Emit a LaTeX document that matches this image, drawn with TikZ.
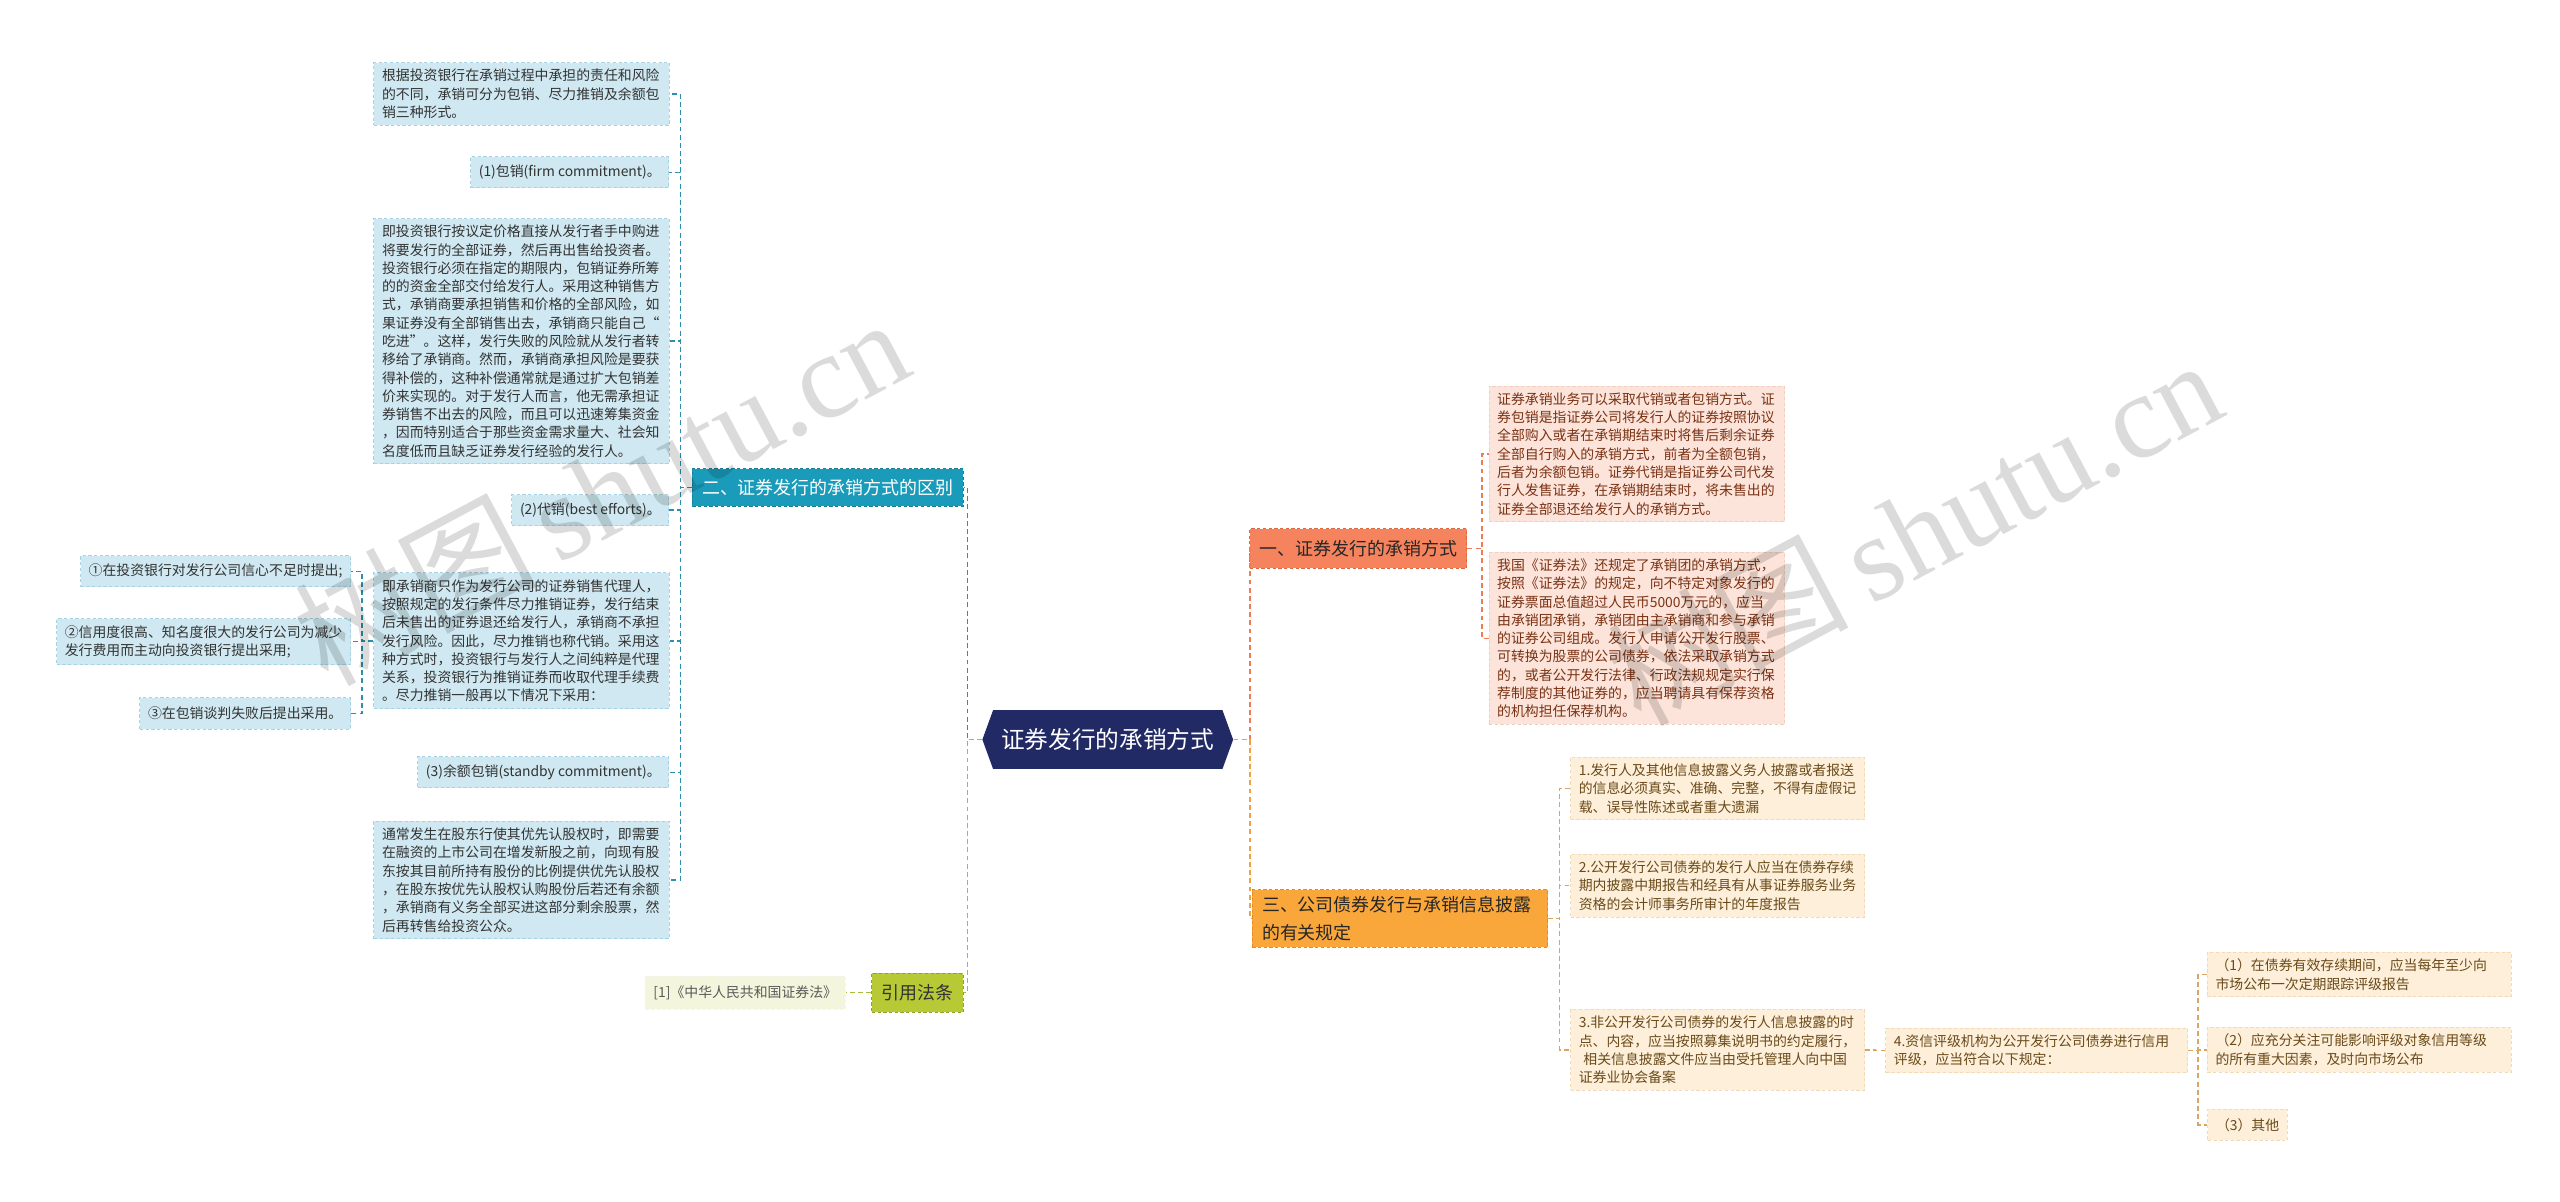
\documentclass[tikz,border=0pt]{standalone}
\usepackage{fontspec}
\setmainfont{Noto Sans CJK SC}
\newfontfamily\wmserif{Liberation Serif}
\usetikzlibrary{shapes.symbols}
\definecolor{navy}{HTML}{222A66}
\definecolor{bluefill}{HTML}{CFE8F1}
\definecolor{blueedge}{HTML}{A6D3E3}
\definecolor{bluebranch}{HTML}{1B9BBA}
\definecolor{bluebranchedge}{HTML}{157E98}
\definecolor{bluecon}{HTML}{2E8FAB}
\definecolor{greencon}{HTML}{A9BB3A}
\definecolor{greenfill}{HTML}{B7C935}
\definecolor{greenleaf}{HTML}{F3F6DC}
\definecolor{coral}{HTML}{F5835D}
\definecolor{coraledge}{HTML}{E0683F}
\definecolor{coralcon}{HTML}{EE7D55}
\definecolor{pinkfill}{HTML}{FCE4DA}
\definecolor{pinkedge}{HTML}{F3CDBE}
\definecolor{pinktext}{HTML}{7A3214}
\definecolor{orange}{HTML}{F9A73A}
\definecolor{orangeedge}{HTML}{E08E24}
\definecolor{orangecon}{HTML}{F2A23C}
\definecolor{creamfill}{HTML}{FDEFD9}
\definecolor{creamedge}{HTML}{F1DAB5}
\definecolor{creamtext}{HTML}{6A4A1A}
\definecolor{tancon}{HTML}{D9A565}
\definecolor{darktext}{HTML}{333333}
\begin{document}
\begin{tikzpicture}[x=1pt,y=-1pt,
  leaf/.style={font=\fontsize{8.5}{11.2}\selectfont, inner xsep=5pt, inner ysep=4pt, draw, dash pattern=on 2pt off 1.5pt, line width=0.6pt, align=left},
  bleaf/.style={leaf, fill=bluefill, draw=blueedge, text=darktext},
  pleaf/.style={leaf, fill=pinkfill, draw=pinkedge, text=pinktext},
  cleaf/.style={leaf, fill=creamfill, draw=creamedge, text=creamtext},
  gleaf/.style={leaf, fill=greenleaf, draw=greenleaf!80!black!20, text=black!65},
  branch/.style={font=\fontsize{11}{17}\selectfont, inner xsep=6pt, inner ysep=4pt, draw, dash pattern=on 2pt off 1.5pt, line width=0.6pt, align=left},
  con/.style={line width=0.9pt, dash pattern=on 3pt off 2pt},
  wm/.style={text=black, opacity=0.14, rotate=28}
]
\useasboundingbox[fill=white] (0,0) rectangle (1568,736);

% centre
\node[signal, signal to=east and west, signal pointer angle=140, fill=navy, text=white,
      font=\fontsize{14.5}{16}\selectfont, minimum height=36pt, inner xsep=5pt] (c) at (678.5,453) {证券发行的承销方式};

% left branches
\node[branch, fill=bluebranch, draw=bluebranchedge, text=white, minimum width=166pt, minimum height=23pt] (n2) at (507,298.5) {二、证券发行的承销方式的区别};
\node[branch, fill=greenfill, draw=greenfill!80!black, text=darktext, minimum height=24pt] (ref) at (562,608) {引用法条};
\node[gleaf, anchor=east, minimum height=20pt] (law) at (518,608) {[1]《中华人民共和国证券法》};

% left leaves
\node[bleaf, text width=171pt] (L1) at (319.5,57.5) {根据投资银行在承销过程中承担的责任和风险\\的不同，承销可分为包销、尽力推销及余额包\\销三种形式。};
\node[bleaf, anchor=east, minimum height=19pt] (L2) at (410,105.5) {(1)包销(firm commitment)。};
\node[bleaf, text width=171pt] (L3) at (319.5,209) {即投资银行按议定价格直接从发行者手中购进\\将要发行的全部证券，然后再出售给投资者。\\投资银行必须在指定的期限内，包销证券所筹\\的的资金全部交付给发行人。采用这种销售方\\式，承销商要承担销售和价格的全部风险，如\\果证券没有全部销售出去，承销商只能自己“\\吃进”。这样，发行失败的风险就从发行者转\\移给了承销商。然而，承销商承担风险是要获\\得补偿的，这种补偿通常就是通过扩大包销差\\价来实现的。对于发行人而言，他无需承担证\\券销售不出去的风险，而且可以迅速筹集资金\\，因而特别适合于那些资金需求量大、社会知\\名度低而且缺乏证券发行经验的发行人。};
\node[bleaf, anchor=east, minimum height=19pt] (L4) at (410,312.5) {(2)代销(best efforts)。};
\node[bleaf, text width=171pt] (L5) at (319.5,392.5) {即承销商只作为发行公司的证券销售代理人，\\按照规定的发行条件尽力推销证券，发行结束\\后未售出的证券退还给发行人，承销商不承担\\发行风险。因此，尽力推销也称代销。采用这\\种方式时，投资银行与发行人之间纯粹是代理\\关系，投资银行为推销证券而收取代理手续费\\。尽力推销一般再以下情况下采用：};
\node[bleaf, anchor=east, minimum height=19pt] (L6) at (410,473) {(3)余额包销(standby commitment)。};
\node[bleaf, text width=171pt] (L7) at (319.5,539) {通常发生在股东行使其优先认股权时，即需要\\在融资的上市公司在增发新股之前，向现有股\\东按其目前所持有股份的比例提供优先认股权\\，在股东按优先认股权认购股份后若还有余额\\，承销商有义务全部买进这部分剩余股票，然\\后再转售给投资公众。};

\node[bleaf, anchor=east, minimum height=19pt] (c1) at (215,350) {①在投资银行对发行公司信心不足时提出;};
\node[bleaf, anchor=east] (c2) at (215,393) {②信用度很高、知名度很大的发行公司为减少\\发行费用而主动向投资银行提出采用;};
\node[bleaf, anchor=east, minimum height=19pt] (c3) at (215,437) {③在包销谈判失败后提出采用。};

% right branches
\node[branch, fill=coral, draw=coraledge, text=black!85, minimum height=24pt] (n1) at (832,336) {一、证券发行的承销方式};
\node[branch, fill=orange, draw=orangeedge, text=black!85, text width=169pt] (n3) at (857.5,562.5) {三、公司债券发行与承销信息披露\\的有关规定};

\node[pleaf, text width=171pt] (A) at (1002.5,278) {证券承销业务可以采取代销或者包销方式。证\\券包销是指证券公司将发行人的证券按照协议\\全部购入或者在承销期结束时将售后剩余证券\\全部自行购入的承销方式，前者为全额包销，\\后者为余额包销。证券代销是指证券公司代发\\行人发售证券，在承销期结束时，将未售出的\\证券全部退还给发行人的承销方式。};
\node[pleaf, text width=171pt] (B) at (1002.5,391) {我国《证券法》还规定了承销团的承销方式，\\按照《证券法》的规定，向不特定对象发行的\\证券票面总值超过人民币5000万元的，应当\\由承销团承销，承销团由主承销商和参与承销\\的证券公司组成。发行人申请公开发行股票、\\可转换为股票的公司债券，依法采取承销方式\\的，或者公开发行法律、行政法规规定实行保\\荐制度的其他证券的，应当聘请具有保荐资格\\的机构担任保荐机构。};

\node[cleaf, text width=170pt] (t1) at (1052,483) {1.发行人及其他信息披露义务人披露或者报送\\的信息必须真实、准确、完整，不得有虚假记\\载、误导性陈述或者重大遗漏};
\node[cleaf, text width=170pt] (t2) at (1052,542.5) {2.公开发行公司债券的发行人应当在债券存续\\期内披露中期报告和经具有从事证券服务业务\\资格的会计师事务所审计的年度报告};
\node[cleaf, text width=170pt] (t3) at (1052,643) {3.非公开发行公司债券的发行人信息披露的时\\点、内容，应当按照募集说明书的约定履行，\\\ 相关信息披露文件应当由受托管理人向中国\\证券业协会备案};
\node[cleaf, text width=175pt] (t4) at (1247.5,643.5) {4.资信评级机构为公开发行公司债券进行信用\\评级，应当符合以下规定：};
\node[cleaf, text width=176pt] (s1) at (1445,597) {（1）在债券有效存续期间，应当每年至少向\\市场公布一次定期跟踪评级报告};
\node[cleaf, text width=176pt] (s2) at (1445,643) {（2）应充分关注可能影响评级对象信用等级\\的所有重大因素，及时向市场公布};
\node[cleaf, anchor=west, minimum height=19pt] (s3) at (1352,689) {（3）其他};

% connectors
\draw[con, draw=bluecon] (c.west) -- ++(-9,0) |- (n2.east);
\draw[con, draw=greencon] (c.west) -- ++(-9,0) |- (ref.east);
\draw[con, draw=greencon] (ref.west) -- (law.east);
\foreach \k in {L1,L2,L3,L4,L5,L6,L7}{
  \draw[con, draw=bluecon] (n2.west) -- ++(-7,0) |- (\k.east);
}
\foreach \k in {c1,c2,c3}{
  \draw[con, draw=bluecon] (L5.west) -- ++(-7,0) |- (\k.east);
}
\draw[con, draw=coralcon] (c.east) -- ++(10,0) |- (n1.west);
\draw[con, draw=orangecon] (c.east) -- ++(10,0) |- (n3.west);
\foreach \k in {A,B}{
  \draw[con, draw=coralcon] (n1.east) -- ++(9,0) |- (\k.west);
}
\foreach \k in {t1,t2,t3}{
  \draw[con, draw=tancon] (n3.east) -- ++(7,0) |- (\k.west);
}
\draw[con, draw=tancon] (t3.east) -- ++(6,0) |- (t4.west);
\foreach \k in {s1,s2,s3}{
  \draw[con, draw=tancon] (t4.east) -- ++(6,0) |- (\k.west);
}

% watermarks
\node[wm, font=\fontsize{74}{74}\selectfont] (wm1) at (368,300) {树图\,{\wmserif shutu.cn}};
\node[wm, font=\fontsize{74}{74}\selectfont] (wm2) at (1172,325) {树图\,{\wmserif shutu.cn}};
\end{tikzpicture}
\end{document}
